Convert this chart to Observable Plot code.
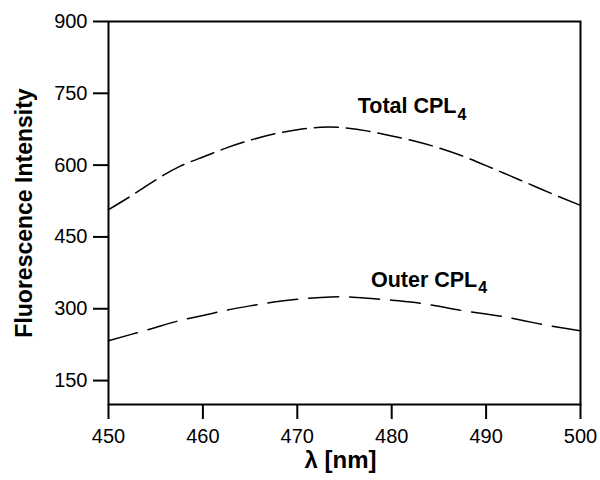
<!DOCTYPE html>
<html>
<head>
<meta charset="utf-8">
<script src="https://cdn.jsdelivr.net/npm/d3@7"></script>
<script src="https://cdn.jsdelivr.net/npm/@observablehq/plot@0.6"></script>
<style>
  html, body { margin: 0; padding: 0; background: #fff; }
</style>
</head>
<body>
<div id="chart"></div>
<script>
const lambda = [450, 452.5, 455, 457.5, 460, 462.5, 465, 467.5, 470, 472.5, 475, 477.5, 480, 482.5, 485, 487.5, 490, 492.5, 495, 497.5, 500];
const totalCPL = [507, 537, 569, 597, 617, 636, 652, 665, 674, 679, 678, 671, 661, 650, 636, 619, 599, 578, 557, 536, 516];
const outerCPL = [233, 247, 261, 275, 286, 297, 306, 314, 320, 323.5, 325, 322, 318, 313, 305, 296, 289, 281, 271, 262, 254];
const xTicks = [450, 460, 470, 480, 490, 500];
const yTicks = [150, 300, 450, 600, 750, 900];
const labelNames = ["Total CPL", "Outer CPL"];
const labelSubs = ["4", "4"];
const labelX = [476.4, 477.8];
const labelY = [723, 360];

const totalData = lambda.map((x, i) => ({x, y: totalCPL[i]}));
const outerData = lambda.map((x, i) => ({x, y: outerCPL[i]}));
const labels = labelNames.map((t, i) => ({t, x: labelX[i], y: labelY[i]}));

const font = "'Liberation Sans', Arial, Helvetica, sans-serif";

const chart = Plot.plot({
  width: 600,
  height: 480,
  marginLeft: 108,
  marginRight: 20,
  marginTop: 21,
  marginBottom: 76,
  style: {fontFamily: font, fontSize: "20px", background: "#fff", color: "#000"},
  x: {domain: [450, 500]},
  y: {domain: [100, 900]},
  marks: [
    Plot.frame({stroke: "#000", strokeWidth: 2}),
    Plot.axisX({ticks: xTicks, tickSize: 15, tickPadding: 9, fontSize: 20, strokeWidth: 2, label: null}),
    Plot.axisY({ticks: yTicks, tickSize: 15, tickPadding: 6, fontSize: 20, strokeWidth: 2, label: null}),
    Plot.line(totalData, {x: "x", y: "y", curve: "natural", stroke: "#000", strokeWidth: 1.5, strokeDasharray: "24,8"}),
    Plot.line(outerData, {x: "x", y: "y", curve: "natural", stroke: "#000", strokeWidth: 1.5, strokeDasharray: "30,11"}),
    Plot.text(labels, {x: "x", y: "y", text: "t", textAnchor: "start", fontSize: 21.5, fontWeight: "bold", fill: "#000", className: "clabel"}),
    Plot.text(["Fluorescence Intensity"], {frameAnchor: "left", textAnchor: "middle", rotate: -90, dx: -84, fontSize: 23, fontWeight: "bold", fill: "#000"}),
    Plot.text(["λ [nm]"], {frameAnchor: "bottom", textAnchor: "middle", dx: -4, dy: 63, fontSize: 24, fontWeight: "bold", fill: "#000"})
  ]
});

const tickSet = new Set([...xTicks, ...yTicks].map(String));
d3.select(chart).selectAll("text")
  .filter(function() { return tickSet.has(this.textContent.trim()); })
  .attr("font-size", 20)
  .style("font-size", "20px");

d3.select(chart).selectAll(".clabel text").each(function(d, i) {
  d3.select(this).append("tspan")
    .attr("font-size", 16)
    .attr("dy", "0.4em")
    .attr("dx", "1")
    .text(labelSubs[i] ?? "4");
});

document.getElementById("chart").appendChild(chart);
</script>
</body>
</html>
